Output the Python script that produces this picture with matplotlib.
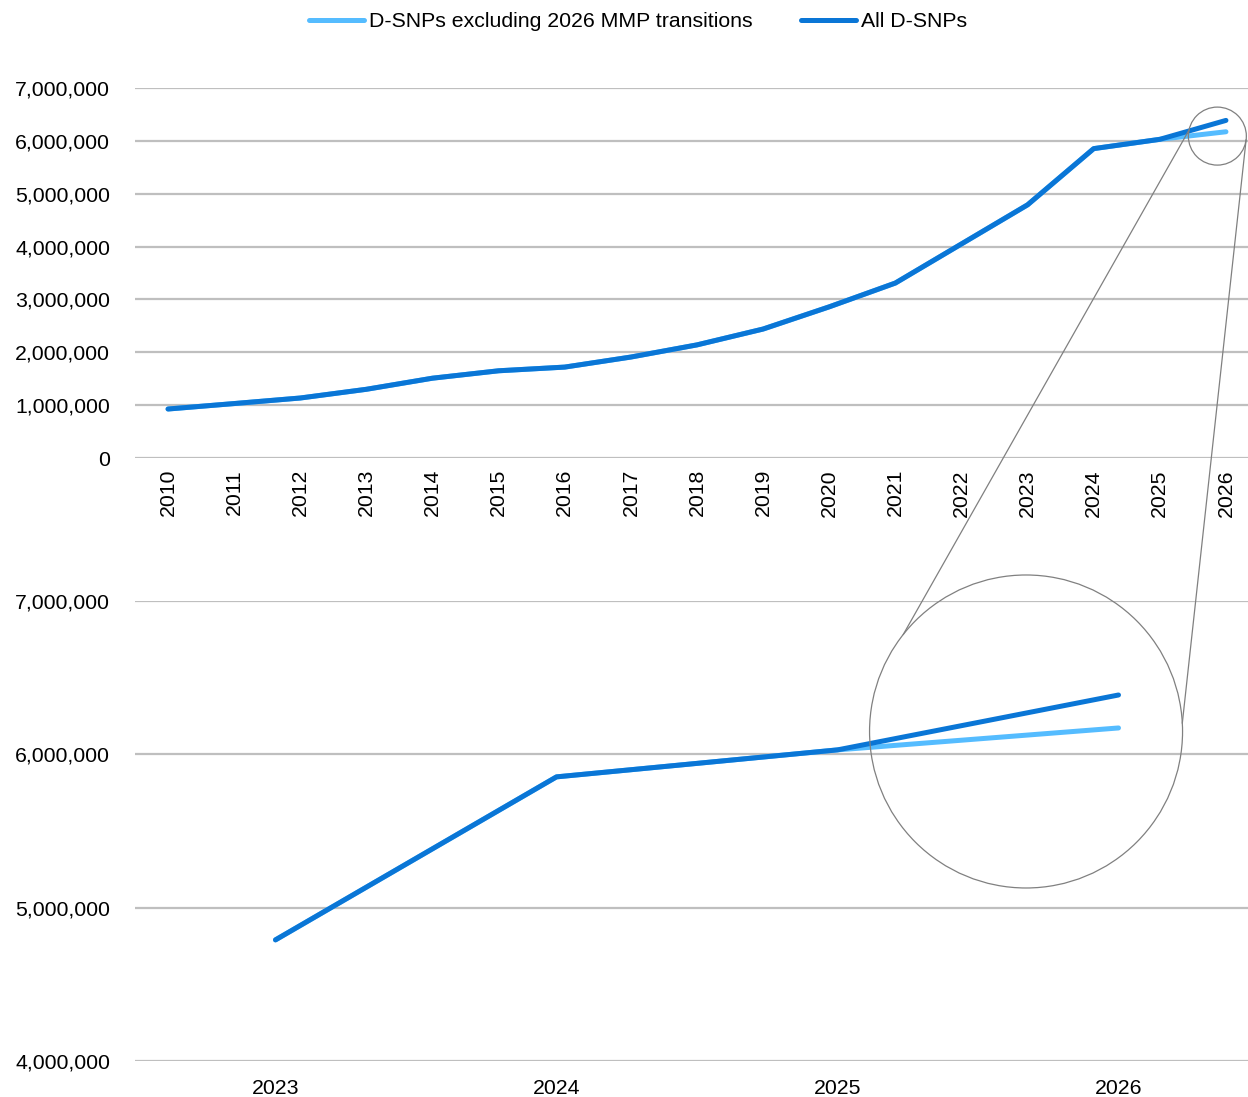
import matplotlib
matplotlib.use("Agg")
import matplotlib.pyplot as plt
from matplotlib.patches import Circle
from matplotlib.lines import Line2D
from matplotlib.ticker import FuncFormatter
import numpy as np

plt.rcParams['font.family'] = ['Liberation Sans', 'DejaVu Sans']

years = [str(y) for y in range(2010, 2027)]
all_dsnps = [927000, 1030000, 1135000, 1300000, 1510000, 1650000, 1720000,
             1910000, 2140000, 2440000, 2860000, 3310000, 4050000, 4790000,
             5853000, 6029000, 6387000]
excl_mmp = [927000, 1030000, 1135000, 1300000, 1510000, 1650000, 1720000,
            1910000, 2140000, 2440000, 2860000, 3310000, 4050000, 4790000,
            5853000, 6029000, 6172000]
zoom_years = years[-4:]
zoom_all = all_dsnps[-4:]
zoom_excl = excl_mmp[-4:]

label_excl = "D-SNPs excluding 2026 MMP transitions"
label_all = "All D-SNPs"

c_dark = "#0A76D6"
c_light = "#55BCFF"
c_grid = "#BFBFBF"
c_ring = "#808080"

W, H = 1248, 1097
fig = plt.figure(figsize=(W / 100, H / 100), dpi=100)

FS = 15.3
fmt = FuncFormatter(lambda v, p: f"{int(v):,}")


def style(ax, ylo, yhi):
    for s in ax.spines.values():
        s.set_visible(False)
    ax.set_ylim(ylo, yhi)
    ax.set_yticks(np.arange(ylo, yhi + 1, 1_000_000))
    ax.yaxis.set_major_formatter(fmt)
    ax.grid(axis='y', color=c_grid, lw=1.6)
    ax.set_axisbelow(True)
    ax.tick_params(axis='y', length=0, pad=18, labelsize=FS)
    ax.tick_params(axis='x', length=0, labelsize=FS)


# overview chart
ax1 = fig.add_axes([135 / W, 1 - 458 / H, 1124 / W, 370 / H])
x1 = np.arange(len(years))
ax1.plot(x1, excl_mmp, color=c_light, lw=3.6, solid_capstyle='round', label=label_excl)
ax1.plot(x1, all_dsnps, color=c_dark, lw=3.6, solid_capstyle='round', label=label_all)
ax1.set_xlim(-0.5, len(years) - 0.5)
ax1.set_xticks(x1)
ax1.set_xticklabels(years, rotation=90)
style(ax1, 0, 7_000_000)
ax1.tick_params(axis='x', pad=8)

# detail chart
ax2 = fig.add_axes([135 / W, 36 / H, 1124 / W, 460 / H])
x2 = np.arange(len(zoom_years))
ax2.plot(x2, zoom_excl, color=c_light, lw=3.6, solid_capstyle='round')
ax2.plot(x2, zoom_all, color=c_dark, lw=3.6, solid_capstyle='round')
ax2.set_xlim(-0.5, len(zoom_years) - 0.5)
ax2.set_xticks(x2)
ax2.set_xticklabels(zoom_years)
style(ax2, 4_000_000, 7_000_000)
ax2.tick_params(axis='x', pad=13)

fig.legend(loc='center', bbox_to_anchor=(638 / W, 1 - 21.5 / H), ncol=2,
           frameon=False, fontsize=FS, handlelength=2.6, handletextpad=0.2,
           columnspacing=2.3)

# magnifier rings and connectors (display coordinates)
small_c = ax1.transData.transform((15.87, 6_090_000))
small_r = 29
big_c = ax2.transData.transform((2.671, 6_149_000))
big_r = 156.5

for c, r in ((small_c, small_r), (big_c, big_r)):
    fig.patches.append(Circle(c, r, transform=None, fill=False,
                              edgecolor=c_ring, lw=0.9))


def on_ring(c, r, dx, dy):
    ang = np.arctan2(-dy, dx)
    return c[0] + r * np.cos(ang), c[1] + r * np.sin(ang)


for (sdx, sdy), (bdx, bdy) in (((-29, -6), (-124.5, -98.5)),
                               ((30, 4), (156.5, -8.5))):
    p0 = on_ring(small_c, small_r, sdx, sdy)
    p1 = on_ring(big_c, big_r, bdx, bdy)
    fig.lines.append(Line2D([p0[0], p1[0]], [p0[1], p1[1]], transform=None,
                            color=c_ring, lw=0.9))

fig.savefig("out.png", dpi=100)
